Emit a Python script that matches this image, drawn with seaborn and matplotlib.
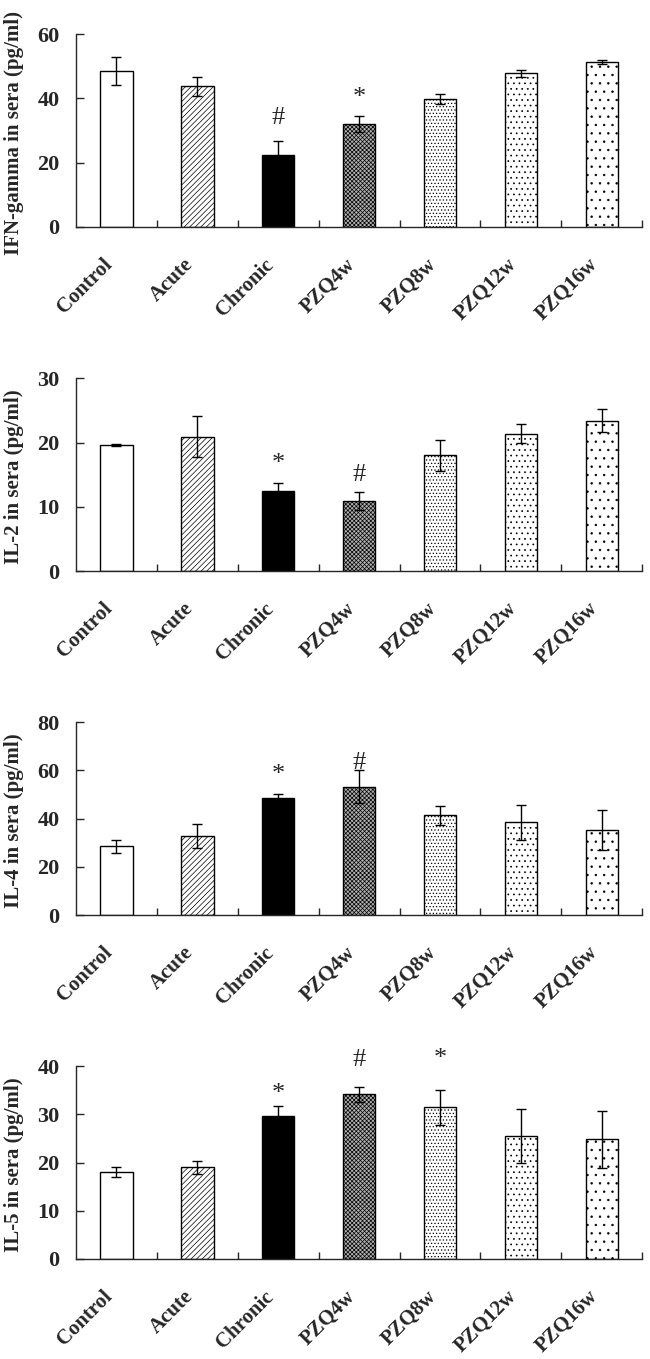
import numpy as np
import pandas as pd
import matplotlib
matplotlib.use('Agg')
import matplotlib.pyplot as plt
from matplotlib.ticker import FixedLocator
import seaborn as sns

groups = ['Control', 'Acute', 'Chronic', 'PZQ4w', 'PZQ8w', 'PZQ12w', 'PZQ16w']

ifn_mean = [48.5, 43.8, 22.3, 32.2, 39.8, 47.8, 51.4]
ifn_err = [4.3, 2.9, 4.5, 2.5, 1.5, 1.1, 0.7]
il2_mean = [19.6, 20.9, 12.4, 10.95, 18.0, 21.4, 23.4]
il2_err = [0.15, 3.2, 1.25, 1.4, 2.4, 1.45, 1.8]
il4_mean = [28.5, 32.8, 48.7, 53.3, 41.4, 38.5, 35.2]
il4_err = [2.8, 5.1, 1.4, 6.8, 3.9, 7.2, 8.2]
il5_mean = [18.0, 19.0, 29.6, 34.2, 31.5, 25.5, 24.8]
il5_err = [1.0, 1.4, 2.1, 1.6, 3.6, 5.6, 6.0]

ylabels = ['IFN-gamma in sera (pg/ml)', 'IL-2 in sera (pg/ml)',
           'IL-4 in sera (pg/ml)', 'IL-5 in sera (pg/ml)']
ymax = [60, 30, 80, 40]
ystep = [20, 10, 20, 10]

# significance marks: (group index, symbol, y position)
marks = [
    [(2, '#', 33.8), (3, '*', 40.2)],
    [(2, '*', 16.7), (3, '#', 15.0)],
    [(2, '*', 58.1), (3, '#', 63.0)],
    [(2, '*', 34.2), (3, '#', 41.4), (4, '*', 41.5)],
]

fills = ['white', 'white', 'black', '#b0b0b0', 'white', 'white', 'white']
hatches = [None, '//////', None, 'xxxxxxxx', '.....', '...', '..']

sns.set_style('ticks')
plt.rcParams['font.family'] = ['Liberation Serif', 'DejaVu Serif']
plt.rcParams['font.weight'] = 'bold'
plt.rcParams['hatch.linewidth'] = 0.5

fig = plt.figure(figsize=(6.5, 13.59), dpi=100)
bottoms = [0.833, 0.5798, 0.3267, 0.0736]
means = [ifn_mean, il2_mean, il4_mean, il5_mean]
errs = [ifn_err, il2_err, il4_err, il5_err]

for k in range(4):
    ax = fig.add_axes([0.117, bottoms[k], 0.871, 0.1418])
    df = pd.DataFrame({'group': groups, 'value': means[k]})
    sns.barplot(data=df, x='group', y='value', color='white', width=0.4,
                edgecolor='black', linewidth=1.0, ax=ax)
    for p, fc, h in zip(ax.patches, fills, hatches):
        p.set_facecolor(fc)
        p.set_edgecolor('black')
        if h:
            p.set_hatch(h)
    ax.errorbar(range(len(groups)), means[k], yerr=errs[k], fmt='none',
                ecolor='black', elinewidth=1.0, capsize=3.5, capthick=1.0)
    for i, s, y in marks[k]:
        ax.text(i, y, s, ha='center', va='center', fontsize=19,
                fontweight='normal', clip_on=False)
    ax.set_xlim(-0.5, 6.5)
    ax.set_ylim(0, ymax[k])
    ax.set_yticks(np.arange(0, ymax[k] + 1, ystep[k]))
    ax.xaxis.set_minor_locator(FixedLocator(np.arange(0.5, 7, 1)))
    ax.tick_params(axis='x', which='major', length=0, pad=20, labelsize=15)
    ax.tick_params(axis='x', which='minor', direction='in', length=5, width=1)
    ax.tick_params(axis='y', direction='in', length=6, width=1, pad=12,
                   labelsize=16)
    plt.setp(ax.get_xticklabels(), rotation=45, ha='right', fontweight='bold')
    plt.setp(ax.get_yticklabels(), fontweight='bold')
    ax.set_xlabel('')
    ax.set_ylabel(ylabels[k], fontsize=15, fontweight='bold')
    ax.yaxis.set_label_coords(-0.092, 0.49)
    for side in ['top', 'right']:
        ax.spines[side].set_visible(False)
    for side in ['left', 'bottom']:
        ax.spines[side].set_linewidth(1.0)

fig.savefig('out.png', dpi=100)
